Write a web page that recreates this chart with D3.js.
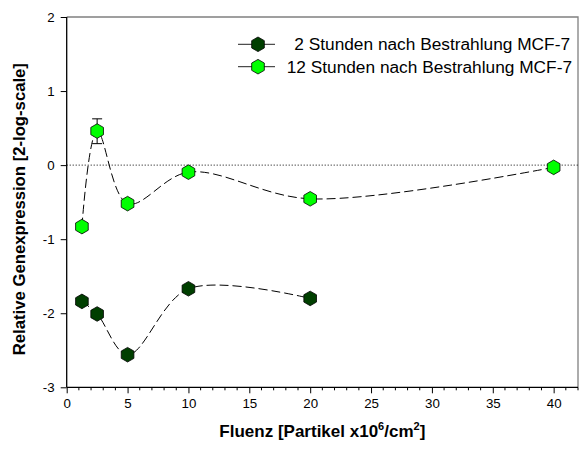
<!DOCTYPE html>
<html lang="en">

<head>
    <meta charset="UTF-8">
    <title>Relative Genexpression MCF-7</title>
    <script src="https://d3js.org/d3.v7.min.js"></script>
    <style>
        body {
            margin: 0;
            background: #fff;
        }

        svg {
            display: block;
            font-family: "Liberation Sans", Arial, sans-serif;
        }
    </style>
</head>

<body>
    <svg width="579" height="450"></svg>

    <script>
        // values
        const seriesNames = ["2 Stunden nach Bestrahlung MCF-7", "12 Stunden nach Bestrahlung MCF-7"];
        const fluence2h = [1.25, 2.5, 5, 10, 20];
        const expr2h = [-1.84, -2.01, -2.56, -1.67, -1.80];
        const fluence12h = [1.25, 2.5, 5, 10, 20, 40];
        const expr12h = [-0.83, 0.46, -0.52, -0.095, -0.455, -0.03];
        // error bars (only one visible, at 2.5)
        const err12h = [null, [0.29, 0.625], null, null, null, null];
        const seriesColors = ["#003f00", "#00ff00"];

        const xTicks = [0, 5, 10, 15, 20, 25, 30, 35, 40];
        const yTicks = [-3, -2, -1, 0, 1, 2];

        const svg = d3.select("svg");
        const margin = { left: 66.7, right: 1, top: 17, bottom: 62.7 };
        const W = 579, H = 450;

        const x = d3.scaleLinear().domain([0, 42]).range([margin.left, W - margin.right]);
        const y = d3.scaleLinear().domain([-3, 2]).range([H - margin.bottom, margin.top]);

        // frame: gray top and right
        svg.append("path")
            .attr("d", `M${x(0)},${y(2)}H${x(42)}V${y(-3)}`)
            .attr("fill", "none")
            .attr("stroke", "#808080")
            .attr("stroke-width", 1.3);

        // zero line
        svg.append("line")
            .attr("x1", x(0)).attr("x2", x(42))
            .attr("y1", y(0)).attr("y2", y(0))
            .attr("stroke", "#000")
            .attr("stroke-width", 1)
            .attr("stroke-dasharray", "1,2");

        // x axis
        const xAxis = svg.append("g")
            .attr("transform", `translate(0,${y(-3)})`)
            .call(d3.axisBottom(x).tickValues(xTicks).tickFormat(d => String(d)).tickSize(6).tickPadding(5));
        xAxis.append("g").selectAll("line")
            .data(d3.range(0, 43, 1).filter(d => d % 5 !== 0))
            .join("line")
            .attr("x1", d => x(d)).attr("x2", d => x(d))
            .attr("y1", 0).attr("y2", 3)
            .attr("stroke", "#000");

        // y axis
        const yAxis = svg.append("g")
            .attr("transform", `translate(${x(0)},0)`)
            .call(d3.axisLeft(y).tickValues(yTicks).tickFormat(d => String(d)).tickSize(6).tickPadding(6));

        [xAxis, yAxis].forEach(g => {
            g.select(".domain").attr("stroke", "#000").attr("stroke-width", 1.3);
            g.selectAll(".tick text")
                .attr("font-size", 13.3)
                .attr("font-family", "Liberation Sans, Arial, sans-serif")
                .attr("fill", "#000");
        });
        xAxis.select(".domain").attr("d", `M${x(0)},0H${x(42)}`);
        yAxis.select(".domain").attr("d", `M0,${y(-3)}V${y(2)}`);

        // smooth dashed curves through the points
        const line = d3.line()
            .x(d => x(d[0]))
            .y(d => y(d[1]))
            .curve(d3.curveCatmullRom.alpha(0.5));

        function drawCurve(xs, ys) {
            svg.append("path")
                .attr("d", line(xs.map((d, i) => [d, ys[i]])))
                .attr("fill", "none")
                .attr("stroke", "#000")
                .attr("stroke-width", 1)
                .attr("stroke-dasharray", "9,4");
        }

        drawCurve(fluence2h, expr2h);
        drawCurve(fluence12h, expr12h);

        // error bars
        const capW = 5;
        fluence12h.forEach((f, i) => {
            const e = err12h[i];
            if (!e) return;
            const g = svg.append("g").attr("stroke", "#000").attr("stroke-width", 1);
            g.append("line").attr("x1", x(f)).attr("x2", x(f)).attr("y1", y(e[0])).attr("y2", y(e[1]));
            e.forEach(v => g.append("line")
                .attr("x1", x(f) - capW).attr("x2", x(f) + capW)
                .attr("y1", y(v)).attr("y2", y(v)));
        });

        // hexagon markers (pointy top)
        const R = 7.3;
        const hex = d3.range(6).map(k => {
            const ang = Math.PI / 2 + k * Math.PI / 3;
            return [R * Math.cos(ang), -R * Math.sin(ang)];
        });
        const hexPath = "M" + hex.map(p => p.join(",")).join("L") + "Z";

        function drawMarkers(xs, ys, color) {
            svg.append("g").selectAll("path")
                .data(xs.map((d, i) => [d, ys[i]]))
                .join("path")
                .attr("d", hexPath)
                .attr("transform", d => `translate(${x(d[0])},${y(d[1])})`)
                .attr("fill", color)
                .attr("stroke", "#000")
                .attr("stroke-width", 0.8);
        }

        drawMarkers(fluence2h, expr2h, seriesColors[0]);
        drawMarkers(fluence12h, expr12h, seriesColors[1]);

        // legend
        const legend = svg.append("g").attr("transform", "translate(238,44.3)");
        seriesNames.forEach((name, i) => {
            const row = legend.append("g").attr("transform", `translate(0,${i * 22.4})`);
            row.append("line").attr("x1", 0).attr("x2", 37).attr("y1", 0).attr("y2", 0)
                .attr("stroke", "#222").attr("stroke-width", 1);
            row.append("path").attr("d", hexPath).attr("transform", "translate(20,0)")
                .attr("fill", seriesColors[i]).attr("stroke", "#000").attr("stroke-width", 0.8);
            row.append("text")
                .attr("x", i === 0 ? 56.3 : 48.7)
                .attr("y", 6)
                .attr("font-size", 17.3)
                .attr("fill", "#000")
                .text(name);
        });

        // axis titles
        const xt = svg.append("text")
            .attr("x", (x(0) + x(42)) / 2)
            .attr("y", 437)
            .attr("text-anchor", "middle")
            .attr("font-size", 17)
            .attr("font-weight", "bold");
        xt.append("tspan").text("Fluenz [Partikel x10");
        xt.append("tspan").attr("font-size", 11).attr("dy", -7).text("6");
        xt.append("tspan").attr("dy", 7).text("/cm");
        xt.append("tspan").attr("font-size", 11).attr("dy", -7).text("2");
        xt.append("tspan").attr("dy", 7).text("]");

        svg.append("text")
            .attr("transform", `translate(24.5,${(y(2) + y(-3)) / 2 + 7}) rotate(-90)`)
            .attr("text-anchor", "middle")
            .attr("font-size", 16.7)
            .attr("font-weight", "bold")
            .text("Relative Genexpression [2-log-scale]");
    </script>
</body>

</html>
